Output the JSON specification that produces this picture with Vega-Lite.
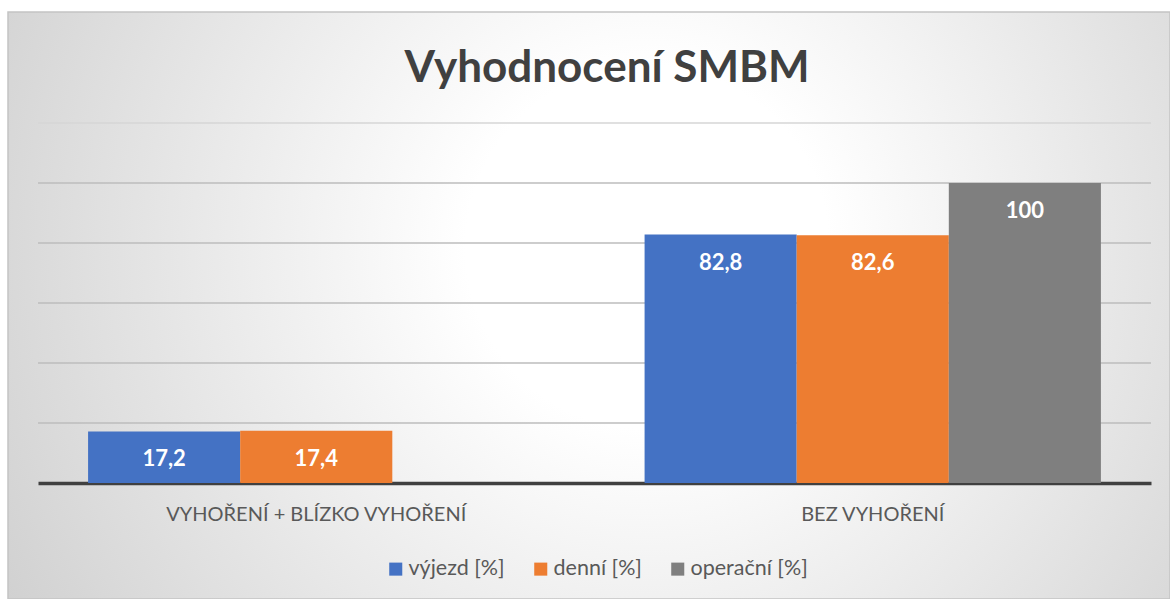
{
  "$schema": "https://vega.github.io/schema/vega-lite/v6.json",
  "autosize": "none",
  "width": 1162,
  "height": 587,
  "padding": {"left": 8, "top": 12, "right": 0, "bottom": 0},
  "background": "white",
  "config": {
    "font": "Lato",
    "view": {
      "fill": {
        "gradient": "radial",
        "x1": 0.55, "y1": 0.45, "r1": 0,
        "x2": 0.55, "y2": 0.45, "r2": 0.78,
        "stops": [
          {"offset": 0, "color": "#ffffff"},
          {"offset": 0.2, "color": "#ffffff"},
          {"offset": 1, "color": "#c2c2c2"}
        ]
      },
      "stroke": "#c4c4c4",
      "strokeWidth": 1.5
    }
  },
  "title": {
    "text": "Vyhodnocení SMBM",
    "font": "Lato",
    "fontSize": 44,
    "fontWeight": "bold",
    "color": "#404040",
    "anchor": "middle",
    "frame": "group",
    "orient": "top",
    "baseline": "alphabetic",
    "offset": -114,
    "dx": 18
  },
  "datasets": {
    "bars": [
      {"kategorie": "VYHOŘENÍ + BLÍZKO VYHOŘENÍ", "serie": "výjezd [%]", "hodnota": 17.2, "popisek": "17,2"},
      {"kategorie": "VYHOŘENÍ + BLÍZKO VYHOŘENÍ", "serie": "denní [%]", "hodnota": 17.4, "popisek": "17,4"},
      {"kategorie": "BEZ VYHOŘENÍ", "serie": "výjezd [%]", "hodnota": 82.8, "popisek": "82,8"},
      {"kategorie": "BEZ VYHOŘENÍ", "serie": "denní [%]", "hodnota": 82.6, "popisek": "82,6"},
      {"kategorie": "BEZ VYHOŘENÍ", "serie": "operační [%]", "hodnota": 100, "popisek": "100"}
    ],
    "grid": [{"v": 20}, {"v": 40}, {"v": 60}, {"v": 80}, {"v": 100}],
    "gridTop": [{"v": 120}]
  },
  "layer": [
    {
      "data": {"name": "grid"},
      "mark": {"type": "rule", "color": "#bdbdbd", "strokeWidth": 1.5},
      "encoding": {
        "y": {"field": "v", "type": "quantitative", "scale": {"domain": [-38.67, 157], "nice": false, "zero": false}, "axis": null},
        "x": {"datum": 0, "type": "quantitative", "scale": {"domain": [0, 1], "range": [30, 1143]}, "axis": null},
        "x2": {"datum": 1}
      }
    },
    {
      "data": {"name": "gridTop"},
      "mark": {"type": "rule", "color": "#d6d6d6", "strokeWidth": 1.5},
      "encoding": {
        "y": {"field": "v", "type": "quantitative", "scale": {"domain": [-38.67, 157], "nice": false, "zero": false}, "axis": null},
        "x": {"datum": 0, "type": "quantitative", "scale": {"domain": [0, 1], "range": [30, 1143]}, "axis": null},
        "x2": {"datum": 1}
      }
    },
    {
      "data": {"name": "bars"},
      "mark": {"type": "bar"},
      "encoding": {
        "x": {
          "field": "kategorie", "type": "nominal", "sort": null,
          "scale": {"range": [30, 1143], "paddingInner": 0.18, "paddingOuter": 0.09},
          "axis": {
            "title": null, "orient": "bottom", "offset": -116,
            "domainColor": "#404040", "domainWidth": 3.5,
            "ticks": false, "grid": false, "labelAngle": 0,
            "labelFont": "Lato", "labelFontSize": 20, "labelColor": "#595959",
            "labelPadding": 21, "labelLimit": 0
          }
        },
        "xOffset": {
          "field": "serie", "type": "nominal",
          "sort": ["výjezd [%]", "denní [%]", "operační [%]"],
          "scale": {"paddingInner": 0, "paddingOuter": 0}
        },
        "y": {"field": "hodnota", "type": "quantitative", "scale": {"domain": [-38.67, 157], "nice": false, "zero": false}, "axis": null},
        "color": {
          "field": "serie", "type": "nominal",
          "sort": ["výjezd [%]", "denní [%]", "operační [%]"],
          "scale": {"domain": ["výjezd [%]", "denní [%]", "operační [%]"], "range": ["#4472C4", "#ED7D31", "#7F7F7F"]},
          "legend": {
            "title": null, "orient": "none", "direction": "horizontal",
            "legendX": 377, "legendY": 546,
            "symbolType": "square", "symbolSize": 170, "symbolStrokeWidth": 0,
            "labelFont": "Lato", "labelFontSize": 21.5, "labelColor": "#595959",
            "labelOffset": 2, "columnPadding": 25, "labelLimit": 0
          }
        }
      }
    },
    {
      "data": {"name": "bars"},
      "mark": {"type": "text", "color": "white", "fontWeight": "bold", "fontSize": 22, "font": "Lato", "baseline": "middle", "dy": 28},
      "encoding": {
        "x": {
          "field": "kategorie", "type": "nominal", "sort": null,
          "scale": {"range": [30, 1143], "paddingInner": 0.18, "paddingOuter": 0.09},
          "axis": null
        },
        "xOffset": {
          "field": "serie", "type": "nominal",
          "sort": ["výjezd [%]", "denní [%]", "operační [%]"],
          "scale": {"paddingInner": 0, "paddingOuter": 0}
        },
        "y": {"field": "hodnota", "type": "quantitative", "scale": {"domain": [-38.67, 157], "nice": false, "zero": false}, "axis": null},
        "text": {"field": "popisek"}
      }
    }
  ],
  "resolve": {"scale": {"x": "independent"}}
}
